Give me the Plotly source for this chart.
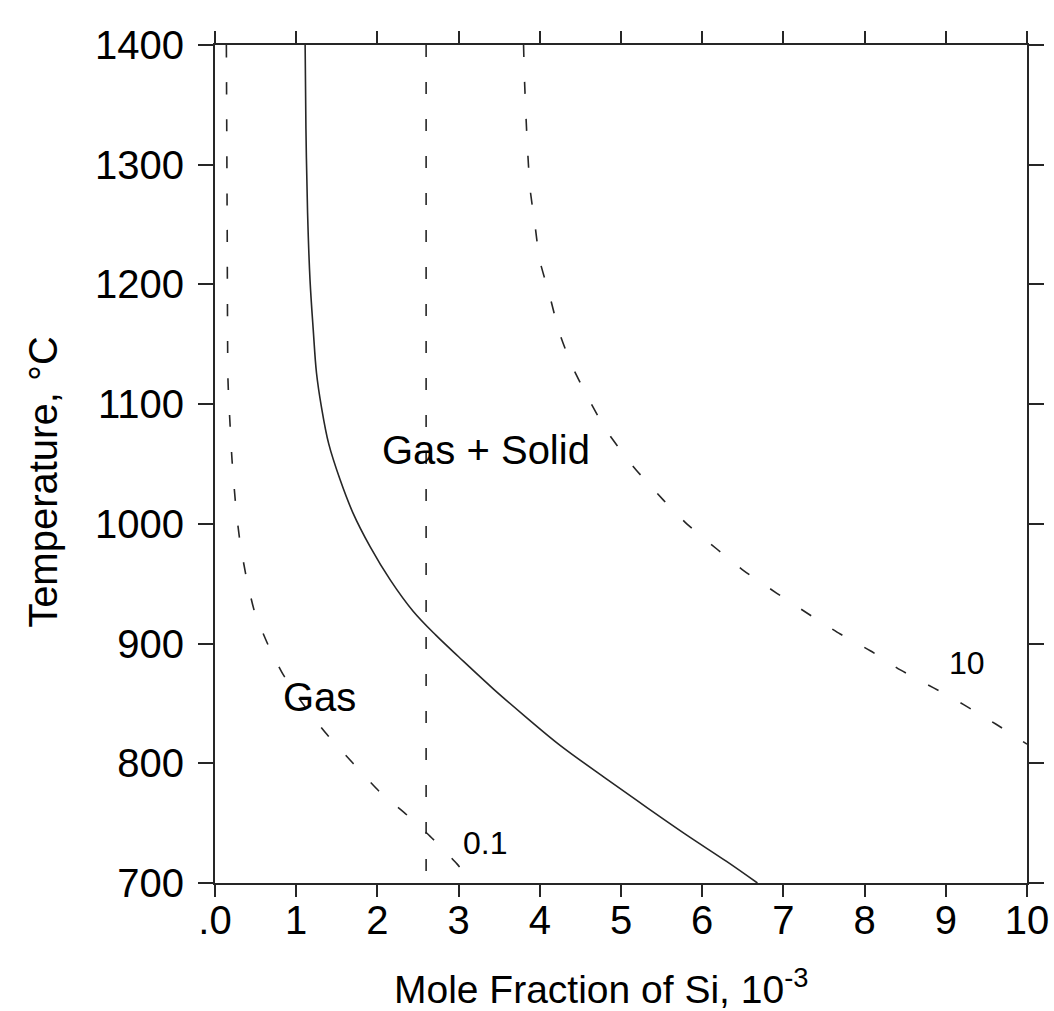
import plotly.graph_objects as go

# ---- data ----
x_ticks = [0, 1, 2, 3, 4, 5, 6, 7, 8, 9, 10]
x_tick_text = [".0", "1", "2", "3", "4", "5", "6", "7", "8", "9", "10"]
y_ticks = [700, 800, 900, 1000, 1100, 1200, 1300, 1400]

# solid phase boundary (Gas / Gas + Solid)
solid_x = [1.11, 1.12, 1.14, 1.17, 1.21, 1.25, 1.31, 1.40, 1.54, 1.70, 1.91, 2.16,
           2.44, 2.72, 3.00, 3.43, 3.84, 4.25, 4.82, 5.32, 5.81, 6.30, 6.68]
solid_T = [1400, 1330, 1260, 1204, 1162, 1126, 1098, 1067, 1037, 1009, 981, 953,
           927, 907, 889, 862, 838, 815, 787, 763, 740, 718, 700]

# dashed curve labelled 0.1
c01_x = [0.14, 0.15, 0.16, 0.18, 0.21, 0.26, 0.31, 0.39, 0.49, 0.66, 0.84, 1.10,
         1.38, 1.70, 2.03, 2.36, 2.65, 2.98, 3.04]
c01_T = [1400, 1250, 1120, 1090, 1053, 1012, 984, 954, 926, 898, 874, 848,
         824, 800, 776, 757, 739, 716, 711]

# vertical dashed line
vert_x = [2.6, 2.6]
vert_T = [1400, 700]

# dashed curve labelled 10
c10_x = [3.80, 3.81, 3.83, 3.85, 3.88, 3.94, 4.00, 4.12, 4.24, 4.39, 4.58, 4.82,
         5.15, 5.52, 5.81, 6.18, 6.51, 6.92, 7.37, 7.70, 8.07, 8.44, 8.85, 9.22,
         9.61, 10.0]
c10_T = [1400, 1374, 1340, 1312, 1280, 1250, 1220, 1191, 1160, 1133, 1107, 1078,
         1048, 1020, 1000, 979, 961, 942, 922, 908, 894, 878, 863, 849, 833, 816]

# region / curve labels
label_text = ["Gas + Solid", "Gas", "0.1", "10"]
label_x = [3.34, 1.29, 3.33, 9.26]
label_T = [1062, 855, 733, 884]
label_size = [40, 40, 32, 32]

FONT = "Liberation Sans, Arial, sans-serif"
INK = "#262626"
dash = "12px,25px"

fig = go.Figure()
fig.add_trace(go.Scatter(x=solid_x, y=solid_T, mode="lines",
                         line=dict(color=INK, width=1.6, shape="spline", smoothing=1.0),
                         showlegend=False))
fig.add_trace(go.Scatter(x=c01_x, y=c01_T, mode="lines",
                         line=dict(color=INK, width=1.6, dash=dash, shape="spline",
                                   smoothing=0.6),
                         showlegend=False))
fig.add_trace(go.Scatter(x=vert_x, y=vert_T, mode="lines",
                         line=dict(color=INK, width=1.6, dash=dash), showlegend=False))
fig.add_trace(go.Scatter(x=c10_x, y=c10_T, mode="lines",
                         line=dict(color=INK, width=1.6, dash=dash, shape="spline",
                                   smoothing=0.6),
                         showlegend=False))

for t, x, y, s in zip(label_text, label_x, label_T, label_size):
    fig.add_annotation(x=x, y=y, text=t, showarrow=False,
                       font=dict(family=FONT, size=s, color="black"),
                       xanchor="center", yanchor="middle")

# axis titles
fig.add_annotation(xref="paper", yref="paper", x=0.475, y=-0.123,
                   text="Mole Fraction of Si, 10<sup>-3</sup>", showarrow=False,
                   font=dict(family=FONT, size=39, color="black"),
                   xanchor="center", yanchor="middle")
fig.add_annotation(xref="paper", yref="paper", x=-0.212, y=0.4785,
                   text="Temperature, °C", showarrow=False, textangle=-90,
                   font=dict(family=FONT, size=40, color="black"),
                   xanchor="center", yanchor="middle")

axis_common = dict(showgrid=False, zeroline=False, showline=True,
                   linecolor=INK, linewidth=2, mirror="ticks",
                   ticks="outside", tickcolor=INK, tickwidth=1.5,
                   ticklabeloverflow="allow",
                   tickfont=dict(family=FONT, size=40, color="black"))

fig.update_xaxes(range=[0, 10], tickvals=x_ticks, ticktext=x_tick_text,
                 ticklen=12, ticklabelstandoff=-11, **axis_common)
fig.update_yaxes(range=[700, 1400], tickvals=y_ticks, ticklen=15,
                 ticklabelstandoff=6, **axis_common)

fig.update_layout(width=1054, height=1011,
                  margin=dict(l=215, r=27, t=45, b=128, autoexpand=False),
                  paper_bgcolor="white", plot_bgcolor="white",
                  font=dict(family=FONT, color="black"))

# remove the default 8px page margin so the figure fills the window exactly
fig.write_html("out.html",
               config={"displayModeBar": False},
               post_script="document.body.style.margin='0';"
                           "document.body.style.overflow='hidden';")
